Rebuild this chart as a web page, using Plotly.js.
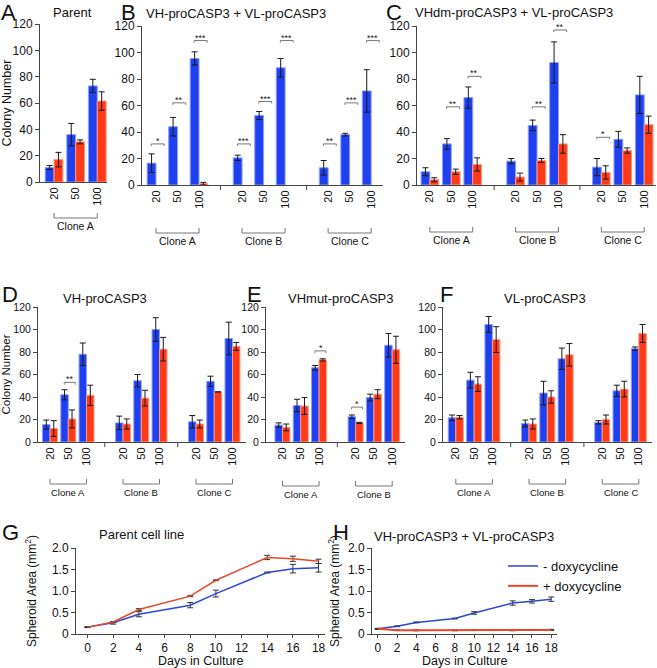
<!DOCTYPE html>
<html><head><meta charset="utf-8">
<script src="https://cdn.plot.ly/plotly-3.0.1.min.js"></script>
<style>html,body{margin:0;padding:0;background:#fff}#chart{width:657px;height:668px}</style>
</head><body><div id="chart"></div>
<script>
// ---------------- DATA ----------------
const doses = ['20', '50', '100'];
const clonesABC = ['Clone A', 'Clone B', 'Clone C'];
const clonesAB = ['Clone A', 'Clone B'];
const clonesA = ['Clone A'];

// A: Parent
const parentBlue = [11, 36, 73];
const parentBlueErr = [1.5, 8.5, 5];
const parentRed = [17, 30.5, 61.5];
const parentRedErr = [5.5, 1.5, 7];

// B: VH-proCASP3 + VL-proCASP3
const bBlue = [16.5, 44, 95.5, 20.5, 52.5, 88.5, 13, 38, 71];
const bBlueErr = [7, 7, 5, 2, 3, 7, 5.5, 1, 16];
const bRed = [null, null, 1, null, null, null, null, null, null];
const bRedErr = [null, null, 1, null, null, null, null, null, null];
const bSigIdx = [0, 1, 2, 3, 4, 5, 6, 7, 8];
const bSigY = [31, 62, 109, 31, 63, 109, 31, 62, 109];
const bSigTxt = ['*', '**', '***', '***', '***', '***', '**', '***', '***'];

// C: VHdm-proCASP3 + VL-proCASP3
const cBlue = [10, 31, 66, 18, 45, 92.5, 13.5, 34.5, 68];
const cBlueErr = [3, 4, 8, 2, 4, 15.5, 6.5, 6, 14];
const cRed = [4, 10, 15.5, 6, 18.5, 31, 9.5, 26, 45.5];
const cRedErr = [1.5, 2, 5, 3, 1.5, 7, 5, 2, 6.5];
const cSigIdx = [1, 2, 4, 5, 6];
const cSigY = [59, 82, 59, 117, 36];
const cSigTxt = ['**', '**', '**', '**', '*'];

// D: VH-proCASP3
const dBlue = [15.5, 42, 78, 17, 54.5, 100, 18, 54, 92];
const dBlueErr = [4, 4.5, 10, 6, 5.5, 10.5, 5.5, 4.5, 14.5];
const dRed = [12, 20.5, 41.5, 16, 39, 82.5, 16, 44.5, 85];
const dRedErr = [7, 8, 9, 4.5, 7, 10.5, 3.5, 0, 3.5];
const dSigIdx = [1];
const dSigY = [53];
const dSigTxt = ['**'];

// E: VHmut-proCASP3
const eBlue = [15, 32.5, 66, 22.5, 39.5, 86];
const eBlueErr = [2, 5.5, 2, 1.5, 3, 10.5];
const eRed = [13, 32, 73, 17, 42.5, 82];
const eRedErr = [3, 7.5, 1, 0.5, 4, 12];
const eSigIdx = [2, 3];
const eSigY = [81, 31];
const eSigTxt = ['*', '*'];

// F: VL-proCASP3
const fBlue = [21.5, 55, 104.5, 16.5, 43.5, 74, 17.5, 45.5, 83];
const fBlueErr = [2.5, 7, 7, 3, 10.5, 9.5, 1.5, 5, 1.5];
const fRed = [22, 51.5, 91, 16, 40, 77.5, 20, 47, 96.5];
const fRedErr = [1.5, 6.5, 11.5, 4.5, 5.5, 10, 4, 7, 8];

// G / H: spheroid growth
const days = [0, 2, 4, 8, 10, 14, 16, 18];
const gMinus = [0.16, 0.26, 0.46, 0.67, 0.94, 1.43, 1.52, 1.54];
const gMinusErr = [0.01, 0.03, 0.06, 0.06, 0.08, 0.01, 0.10, 0.10];
const gPlus = [0.16, 0.28, 0.57, 0.88, 1.25, 1.78, 1.75, 1.69];
const gPlusErr = [0.01, 0.01, 0.02, 0.01, 0.01, 0.05, 0.06, 0.05];
const hMinus = [0.12, 0.18, 0.27, 0.36, 0.49, 0.72, 0.76, 0.81];
const hMinusErr = [0.01, 0.01, 0.01, 0.01, 0.03, 0.05, 0.04, 0.05];
const hPlus = [0.12, 0.09, 0.085, 0.085, 0.09, 0.09, 0.095, 0.095];
const hPlusErr = [0.01, 0.01, 0.01, 0.01, 0.01, 0.015, 0.01, 0.015];
const legendNames = ['- doxycycline', '+ doxycycline'];

// ---------------- STYLE / LAYOUT HELPERS ----------------
const W = 657, HGT = 668;
const fx = p => p / W;
const fy = p => 1 - p / HGT;
const FONT = 'Arial, "Liberation Sans", Helvetica, sans-serif';
const BLUE = '#1f40ee', BLUE_EDGE = '#8d9dff';
const RED = '#ff3a17', RED_EDGE = '#ff9a84';
const LBLUE = '#2a47d6', LRED = '#e8472c';
const AXC = '#444';

// slot position for each bar (3 doses per clone, one empty slot between clones)
const slots = clones => clones.flatMap((c, g) => doses.map((d, i) => g * 4 + i));
const doseLabels = clones => clones.flatMap(() => doses);

const traces = [];
const shapes = [];
const annotations = [];
const layout = {
  width: W, height: HGT, autosize: false,
  margin: {l: 0, r: 0, t: 0, b: 0},
  paper_bgcolor: '#fff', plot_bgcolor: 'rgba(0,0,0,0)',
  font: {family: FONT, color: '#111', size: 12},
  barmode: 'group', bargap: 0.18, bargroupgap: 0,
  showlegend: true,
  legend: {x: fx(503), y: fy(551), xanchor: 'left', yanchor: 'top',
           bgcolor: 'rgba(0,0,0,0)', font: {size: 13, family: FONT}, itemwidth: 30,
           tracegroupgap: 0},
  shapes: shapes, annotations: annotations
};

function barPanel(p) {
  const ax = p.id === 1 ? '' : String(p.id);
  const pos = slots(p.clones);
  const common = {type: 'bar', x: pos, xaxis: 'x' + ax, yaxis: 'y' + ax,
                  showlegend: false, hoverinfo: 'skip'};
  traces.push(Object.assign({}, common, {y: p.blue, name: '- dox',
    marker: {color: BLUE, line: {color: BLUE_EDGE, width: 1}},
    error_y: {type: 'data', array: p.blueErr, color: '#1a1a1a', thickness: 1, width: 3}}));
  traces.push(Object.assign({}, common, {y: p.red, name: '+ dox',
    marker: {color: RED, line: {color: RED_EDGE, width: 1}},
    error_y: {type: 'data', array: p.redErr, color: '#1a1a1a', thickness: 1, width: 3}}));

  layout['xaxis' + ax] = {
    domain: [fx(p.x0), fx(p.x1)], anchor: 'y' + ax, range: p.xr,
    tickmode: 'array', tickvals: pos, ticktext: doseLabels(p.clones),
    tickangle: -90, ticks: '', showline: true, linecolor: AXC, linewidth: 1,
    showgrid: false, zeroline: false, fixedrange: true,
    tickfont: {size: p.xtf, family: FONT, color: '#111'}
  };
  layout['yaxis' + ax] = {
    domain: [fy(p.yb), fy(p.yt)], anchor: 'x' + ax, range: [0, 120], dtick: 20,
    ticks: 'outside', ticklen: 4, tickcolor: AXC, showline: true, linecolor: AXC,
    linewidth: 1, showgrid: false, zeroline: false, fixedrange: true,
    tickfont: {size: p.ytf, family: FONT, color: '#111'}
  };
  if (p.ytitle) {
    layout['yaxis' + ax].title = {text: 'Colony Number', font: {size: p.ytitleSize, family: FONT}, standoff: 4};
  }
  p.clones.forEach((c, g) => {
    // separator tick between clones
    if (g > 0) shapes.push({type: 'line', xref: 'x' + ax, yref: 'paper',
      x0: g * 4 - 1, x1: g * 4 - 1, y0: fy(p.yb), y1: fy(p.yb + 5),
      line: {color: AXC, width: 1}});
    // clone bracket
    const a = g * 4, b = g * 4 + 2;
    shapes.push({type: 'path', xref: 'x' + ax, yref: 'paper',
      path: `M ${a},${fy(p.brY - 5)} L ${a},${fy(p.brY)} L ${b},${fy(p.brY)} L ${b},${fy(p.brY - 5)}`,
      line: {color: '#777', width: 1}});
    annotations.push({xref: 'x' + ax, yref: 'paper', x: g * 4 + 1, y: fy(p.lbY),
      text: c, showarrow: false, xanchor: 'center', yanchor: 'middle',
      font: {size: p.ctf, family: FONT, color: '#111'}});
  });
  // significance brackets
  if (p.sigIdx) {
    p.sigIdx.forEach((k, i) => {
      const s = pos[k], y = p.sigY[i], dy = p.sigDy;
      shapes.push({type: 'path', xref: 'x' + ax, yref: 'y' + ax,
        path: `M ${s - 0.22},${y - dy} L ${s - 0.22},${y} L ${s + 0.38},${y} L ${s + 0.38},${y - dy}`,
        line: {color: '#777', width: 1}});
      annotations.push({xref: 'x' + ax, yref: 'y' + ax, x: s + 0.08, y: y,
        text: p.sigTxt[i], showarrow: false, xanchor: 'center', yanchor: 'bottom', yshift: -4,
        font: {size: 9, family: FONT, color: '#222'}});
    });
  }
}

// row 1
barPanel({id: 1, clones: clonesA, blue: parentBlue, blueErr: parentBlueErr, red: parentRed, redErr: parentRedErr,
  x0: 40, x1: 107, xr: [-0.65, 2.45], yt: 24, yb: 182, xtf: 11, ytf: 12, ctf: 10.5,
  brY: 218, lbY: 226, ytitle: true, ytitleSize: 12.5});
barPanel({id: 2, clones: clonesABC, blue: bBlue, blueErr: bBlueErr, red: bRed, redErr: bRedErr,
  x0: 142, x1: 383, xr: [-0.65, 10.55], yt: 26, yb: 185, xtf: 11, ytf: 12, ctf: 10.5,
  brY: 233, lbY: 241, sigIdx: bSigIdx, sigY: bSigY, sigTxt: bSigTxt, sigDy: 1.5});
barPanel({id: 3, clones: clonesABC, blue: cBlue, blueErr: cBlueErr, red: cRed, redErr: cRedErr,
  x0: 417, x1: 656, xr: [-0.6, 10.55], yt: 26, yb: 185, xtf: 11, ytf: 12, ctf: 10.5,
  brY: 232, lbY: 240, sigIdx: cSigIdx, sigY: cSigY, sigTxt: cSigTxt, sigDy: 1.5});
// row 2
const R2T = 307, R2B = 442;
barPanel({id: 4, clones: clonesABC, blue: dBlue, blueErr: dBlueErr, red: dRed, redErr: dRedErr,
  x0: 38, x1: 246, xr: [-0.66, 10.74], yt: R2T, yb: R2B, xtf: 11, ytf: 10.5, ctf: 9.5,
  brY: 484, lbY: 492, ytitle: true, ytitleSize: 11.5, sigIdx: dSigIdx, sigY: dSigY, sigTxt: dSigTxt, sigDy: 2});
barPanel({id: 5, clones: clonesAB, blue: eBlue, blueErr: eBlueErr, red: eRed, redErr: eRedErr,
  x0: 266, x1: 405, xr: [-0.9, 6.7], yt: R2T, yb: R2B, xtf: 11, ytf: 10.5, ctf: 9.5,
  brY: 486, lbY: 494, sigIdx: eSigIdx, sigY: eSigY, sigTxt: eSigTxt, sigDy: 2});
barPanel({id: 6, clones: clonesABC, blue: fBlue, blueErr: fBlueErr, red: fRed, redErr: fRedErr,
  x0: 443, x1: 652, xr: [-0.7, 10.72], yt: R2T, yb: R2B, xtf: 11, ytf: 10.5, ctf: 9.5,
  brY: 484, lbY: 492});

// row 3: growth panels
function linePanel(id, x0, x1, xr, minus, minusErr, plus, plusErr, legend, plusWidth, ystand) {
  const ax = String(id);
  traces.push({type: 'scatter', mode: 'lines', x: days, y: minus, xaxis: 'x' + ax, yaxis: 'y' + ax,
    name: legendNames[0], showlegend: legend, line: {color: LBLUE, width: 1.5},
    error_y: {type: 'data', array: minusErr, color: '#333', thickness: 1, width: 3}, hoverinfo: 'skip'});
  traces.push({type: 'scatter', mode: 'lines', x: days, y: plus, xaxis: 'x' + ax, yaxis: 'y' + ax,
    name: legendNames[1], showlegend: legend, line: {color: LRED, width: plusWidth},
    error_y: {type: 'data', array: plusErr, color: '#333', thickness: 1, width: 3}, hoverinfo: 'skip'});
  layout['xaxis' + ax] = {
    domain: [fx(x0), fx(x1)], anchor: 'y' + ax, range: xr, tick0: 0, dtick: 2,
    ticks: 'outside', ticklen: 3, tickcolor: AXC, showline: true, linecolor: AXC, linewidth: 1,
    showgrid: false, zeroline: false, fixedrange: true,
    tickfont: {size: 12, family: FONT, color: '#111'}
  };
  layout['yaxis' + ax] = {
    domain: [fy(634), fy(548)], anchor: 'x' + ax, range: [0, 2],
    tickmode: 'array', tickvals: [0, 0.5, 1, 1.5, 2], ticktext: ['0', '0.5', '1.0', '1.5', '2.0'],
    ticks: 'outside', ticklen: 4, tickcolor: AXC, showline: true, linecolor: AXC, linewidth: 1,
    showgrid: false, zeroline: false, fixedrange: true,
    tickfont: {size: 12, family: FONT, color: '#111'},
    title: {text: 'Spheroid Area (mm<sup>2</sup>)', font: {size: 12, family: FONT}, standoff: ystand}
  };
  // x-axis title placed under the tick labels, centred on the axis
  annotations.push({xref: 'x' + ax + ' domain', yref: 'paper', x: 0.5, y: fy(660.5),
    text: 'Days in Culture', showarrow: false, xanchor: 'center', yanchor: 'middle',
    font: {size: 12.5, family: FONT, color: '#111'}});
}
linePanel(7, 76, 325, [-0.9, 18.5], gMinus, gMinusErr, gPlus, gPlusErr, false, 1.5, 12);
linePanel(8, 372, 557, [-0.6, 18.6], hMinus, hMinusErr, hPlus, hPlusErr, true, 2, 5);

// panel letters and titles
const letters = [['A', 8, 12.5], ['B', 128, 12.5], ['C', 394, 12.5], ['D', 10, 294], ['E', 254, 294],
                 ['F', 446, 294], ['G', 10, 532], ['H', 341, 532]];
letters.forEach(([t, x, y]) => annotations.push({xref: 'paper', yref: 'paper', x: fx(x), y: fy(y),
  text: t, showarrow: false, xanchor: 'center', yanchor: 'middle', font: {size: 22, family: FONT, color: '#111'}}));
const titles = [['Parent', 72, 12], ['VH-proCASP3 + VL-proCASP3', 236, 13], ['VHdm-proCASP3 + VL-proCASP3', 514, 12],
                ['VH-proCASP3', 105, 298], ['VHmut-proCASP3', 340, 298], ['VL-proCASP3', 545, 298],
                ['Parent cell line', 141, 534], ['VH-proCASP3 + VL-proCASP3', 464, 536]];
titles.forEach(([t, x, y]) => annotations.push({xref: 'paper', yref: 'paper', x: fx(x), y: fy(y),
  text: t, showarrow: false, xanchor: 'center', yanchor: 'middle', font: {size: 13, family: FONT, color: '#111'}}));

Plotly.newPlot('chart', traces, layout, {displayModeBar: false, staticPlot: true});
</script>
</body></html>
